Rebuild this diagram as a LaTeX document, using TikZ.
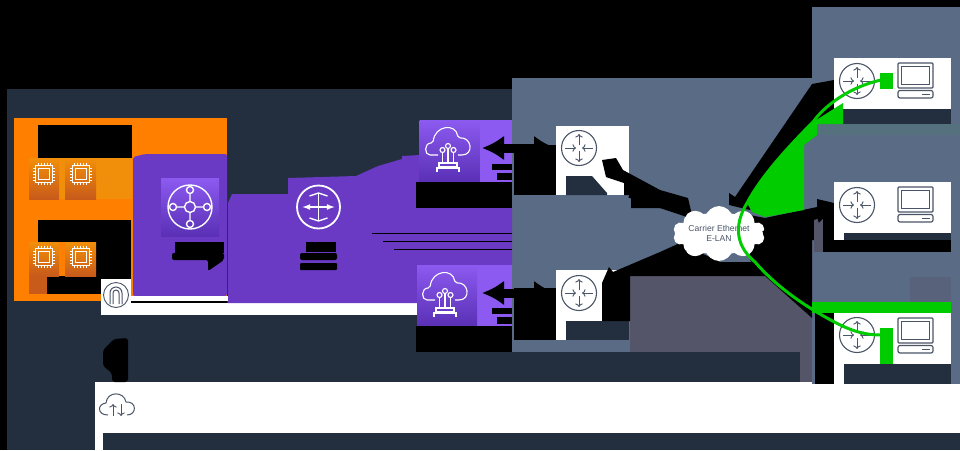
\documentclass[tikz,border=0pt]{standalone}
\usepackage{fontspec}
\setmainfont{Liberation Sans}
\usetikzlibrary{arrows, arrows.meta, shapes, shapes.symbols, positioning}
\definecolor{navy}{HTML}{232F3E}
\definecolor{slate}{HTML}{5A6B86}
\definecolor{dusk}{HTML}{55556A}
\definecolor{awsorange}{HTML}{FF8000}
\definecolor{chipamber}{HTML}{F28F0A}
\definecolor{chiprust}{HTML}{C85A1A}
\definecolor{awspurple}{HTML}{6A3AC5}
\definecolor{liftpurple}{HTML}{8C5AF0}
\definecolor{deeppurple}{HTML}{5A30B5}
\definecolor{linkgreen}{HTML}{00CC00}
\definecolor{iconink}{HTML}{4A5667}
\tikzset{
  tile/.style={minimum width=#1, minimum height=#1, inner sep=0pt, top color=liftpurple, bottom color=deeppurple, draw=none},
  chiptile/.style={minimum width=#1, inner sep=0pt, top color=chipamber, bottom color=chiprust, draw=none},
  whitebox/.style={fill=white, draw=none, inner sep=0pt},
  wire/.style={{Latex[length=22pt,width=25pt]}-{Latex[length=22pt,width=25pt]}, line width=9pt, black},
  trunk/.style={-latex, line width=5pt, black},
  greenlink/.style={linkgreen, line width=3pt},
  chip/.pic={
    \draw[white, line width=1pt] (-8.5,-8.5) rectangle (8.5,8.5) (-5.5,-5.5) rectangle (5.5,5.5);
    \foreach \t in {-6,-3,0,3,6} {
      \draw[white, line width=.6pt] (\t,-11) -- (\t,-8.5) (\t,8.5) -- (\t,11) (-11,\t) -- (-8.5,\t) (8.5,\t) -- (11,\t);
    }
  },
  router/.pic={
    \draw[iconink, line width=1.1pt] (0,0) circle (17.5);
    \draw[iconink, line width=.9pt, ->] (0,-3) -- (0,-14);
    \draw[iconink, line width=.9pt, ->] (0,3) -- (0,14);
    \draw[iconink, line width=.9pt, ->] (-14,0) -- (-3,0);
    \draw[iconink, line width=.9pt, ->] (14,0) -- (3,0);
  },
  computer/.pic={
    \draw[iconink, line width=1.2pt, rounded corners=1pt] (-17.5,-17.5) rectangle (17.5,7.5);
    \draw[iconink, line width=1.1pt] (-14,-14) rectangle (14,4);
    \draw[iconink, line width=1.2pt, rounded corners=2pt] (-17.5,10) rectangle (17.5,17.5);
    \draw[iconink, line width=1.8pt] (6,14) -- (14,14);
  },
  hub/.pic={
    \draw[white, line width=1.4pt] (0,0) circle (22) (0,0) circle (5.5);
    \foreach \a in {0,90,180,270} {
      \draw[white, line width=1.4pt] (\a:5.5) -- (\a:13.5) (\a:17) circle (3.5);
    }
  },
  crossing/.pic={
    \draw[white, line width=1.8pt] (0,0) circle (21.5);
    \draw[white, line width=1.6pt, latex-latex] (-16,0) -- (16,0);
    \draw[white, line width=1.6pt] (0,-13) -- (0,13);
    \draw[white, line width=1.4pt] (-9,-11) -- (0,-14) -- (9,-11) (-9,11) -- (0,14) -- (9,11);
  },
  cloudlink/.pic={
    \draw[white, line width=1.1pt, rounded corners=2pt] (-10,6) -- (-16,6) .. controls (-24,6) and (-24,-6) .. (-15,-6) .. controls (-13,-24) and (8,-26) .. (10,-11) .. controls (24,-12) and (26,6) .. (12,6) -- (10,6);
    \foreach \t/\h in {-5.5/1,0/-3,5.5/1} {
      \draw[white, line width=1.1pt] (\t,\h) circle (2.5);
      \draw[white, line width=1.1pt] (\t,\h+2.5) -- (\t,14);
    }
    \draw[white, line width=1.1pt] (-9,14) rectangle (9,18) (-11,23) -- (-11,19) -- (11,19) -- (11,23);
  }
}
\begin{document}
\begin{tikzpicture}[x=1pt, y=-1pt]
  \useasboundingbox (0,0) rectangle (960,450);
  \fill[black] (0,0) rectangle (960,450);
  % panels behind everything
  \fill[navy] (7,89) rectangle (812,382);
  \fill[navy] (7,382) rectangle (95,450);
  \fill[slate] (512,78) rectangle (812,352);
  \fill[dusk] (630,276) -- (765,276) -- (812,318) -- (812,384) -- (800,384) -- (800,352) -- (630,352) -- cycle;
  \fill[navy] (630,352) rectangle (800,382);
  \fill[white] (95,382) rectangle (960,450);
  \fill[navy] (103,433) rectangle (960,450);
  \fill[slate] (812,7) rectangle (960,384);
  \fill[slate] (805,135) rectangle (812,252);
  \fill[slate!94!linkgreen] (817,124) rectangle (960,135);
  \fill[dusk!40!slate] (910,277) rectangle (951,302);
  % vpc
  \fill[awsorange] (14,118) rectangle (227,301);
  \fill[black] (38,125) rectangle (132,158);
  \fill[chipamber] (59,158) rectangle (132,199);
  \fill[black] (38,220) rectangle (131,242);
  \fill[black] (96,242) rectangle (131,294);
  \fill[black] (47,276) rectangle (131,294);
  \fill[chiprust] (29,276) rectangle (47,294);
  \node[chiptile=30pt, minimum height=41pt] (ec2a) at (44,178.5) {};
  \node[chiptile=31pt, minimum height=41pt] (ec2b) at (80.5,178.5) {};
  \node[chiptile=30pt, minimum height=34pt] (ec2c) at (44,259) {};
  \node[chiptile=31pt, minimum height=34pt] (ec2d) at (80.5,259) {};
  \pic at (44,174) {chip};
  \pic at (80.5,174) {chip};
  \pic at (44,257) {chip};
  \pic at (80.5,257) {chip};
  % purple fields
  \fill[awspurple, rounded corners=2pt] (133,157) -- (145,154) -- (227,154) -- (227,296) -- (133,296) -- cycle;
  \fill[white] (101,296) rectangle (228,301);
  \fill[black] (131,301) rectangle (227,303);
  \fill[white] (101,303) rectangle (417,315);
  \fill[awspurple] (228,203) -- (232,194) -- (288,194) -- (288,178) -- (356,176) -- (378,166) -- (402,159) -- (402,156) -- (420,155) -- (420,208) -- (512,208) -- (512,265) -- (417,265) -- (417,303) -- (228,303) -- cycle;
  \draw[black, line width=1pt] (372,233) -- (512,233);
  \draw[black, line width=1pt] (383,241) -- (512,241);
  \draw[black, line width=1pt] (394,249) -- (512,249);
  \node[tile=58pt] (tgw) at (190,207) {};
  \pic at (190,207) {hub};
  \pic at (318.5,207) {crossing};
  \node[inner sep=0pt] (dxgw) at (318.5,207) {};
  \fill[black] (175,242) rectangle (224,253);
  \fill[black, rounded corners=2pt] (172,253) -- (224,253) -- (224,260) -- (208,271) -- (208,260) -- (172,260) -- cycle;
  \fill[black] (306,242) rectangle (336,252);
  \fill[black, rounded corners=2pt] (300,253) rectangle (337,260);
  \fill[black, rounded corners=1pt] (300,263) rectangle (337,270);
  % attachment tile
  \node[whitebox, minimum width=30pt, minimum height=36pt] (attach) at (116,297) {};
  \draw[iconink, line width=.9pt] (116,295) circle (12.5);
  \draw[iconink, line width=1pt] (110,304) -- (110,293) arc[start angle=180, end angle=360, radius=6] -- (122,304);
  \draw[iconink, line width=1pt] (113,304) -- (113,293) arc[start angle=180, end angle=360, radius=3] -- (119,304);
  \fill[black, rounded corners=3pt] (128,338) -- (114,339) -- (103,350) -- (103,366) -- (112,373) -- (112,382) -- (128,382) -- cycle;
  % direct connect tiles
  \fill[liftpurple] (479,120) rectangle (512,182);
  \fill[liftpurple] (417,265) rectangle (512,326);
  \node[tile=60pt, minimum height=62pt] (dxa) at (449.5,151) {};
  \node[tile=60pt, minimum height=61pt] (dxb) at (447,295.5) {};
  \pic at (448,149) {cloudlink};
  \pic at (445,294) {cloudlink};
  \fill[black] (416,182) rectangle (512,208);
  \fill[black] (416,326) rectangle (512,352);
  \fill[black] (492,164) rectangle (512,170);
  \fill[black] (497,173) rectangle (512,180);
  \fill[black] (492,308) rectangle (512,314);
  \fill[black] (497,317) rectangle (512,324);
  % data center routers
  \coordinate (dxaout) at (482,148);
  \coordinate (dxbout) at (482,293);
  \coordinate (cgwain) at (556,148);
  \coordinate (cgwbin) at (556,293);
  \draw[wire] (dxaout) -- (cgwain);
  \draw[wire] (dxbout) -- (cgwbin);
  \fill[black] (514,145) rectangle (556,195);
  \fill[black] (514,288) rectangle (556,340);
  \node[whitebox, minimum width=73pt, minimum height=69pt] (cgwa) at (592.5,160.5) {};
  \node[whitebox, minimum width=73pt, minimum height=70pt] (cgwb) at (592.5,305) {};
  \pic at (579,148) {router};
  \pic at (579,293) {router};
  \fill[navy] (566,176) -- (592,176) -- (607,193) -- (607,195) -- (566,195) -- cycle;
  \fill[black] (624,183) rectangle (631,195);
  \fill[navy] (566,321) rectangle (629,340);
  % cloud links
  \fill[black] (602,160) -- (616,158) -- (623,170) -- (660,190) -- (688,198) -- (692,215) -- (672,208) -- (631,208) -- (631,195) -- (624,195) -- (624,183) -- (606,177) -- cycle;
  \fill[black] (602,321) -- (602,283) -- (609,267) -- (613,272) -- (660,252) -- (680,243) -- (720,262) -- (765,262) -- (765,276) -- (630,276) -- (630,321) -- cycle;
  \fill[black] (729,205) -- (729,193) -- (735,197) -- (810,87) -- (812,84) -- (834,80) -- (834,110) -- (815,125) -- (750,210) -- cycle;
  \fill[black] (750,215) -- (765,218) -- (817,207) -- (817,199) -- (834,203) -- (834,240) -- (812,240) -- (812,318) -- (765,276) -- (750,260) -- cycle;
  \fill[dusk] (814,218) rectangle (823,252);
  \fill[black] (823,240) rectangle (951,252);
  \fill[black] (815,313) rectangle (834,384);
  \fill[white] (719,233.5) ellipse (40 and 21);
  \node[cloud, cloud puffs=10, aspect=2.4, fill=white, draw=none, inner sep=0pt, minimum width=92pt, minimum height=47pt, align=center, font=\fontsize{8.6}{10}\selectfont, text=iconink] (celan) at (719,233.5) {Carrier Ethernet\\E-LAN};
  % branch sites
  \node[whitebox, minimum width=117pt, minimum height=51pt] (sitea) at (892.5,83.5) {};
  \node[whitebox, minimum width=117pt, minimum height=58pt] (siteb) at (892.5,211) {};
  \node[whitebox, minimum width=117pt, minimum height=71pt] (sitec) at (892.5,348.5) {};
  \path[trunk] (celan.east) edge (siteb.west);
  \path[trunk, -] (cgwa.south east) edge (celan.north west);
  \path[trunk, -] (cgwb.north east) edge (celan.south west);
  \fill[navy] (843,109) rectangle (951,124);
  \fill[navy] (844,233) rectangle (951,240);
  \fill[navy] (844,363.5) rectangle (951,384);
  \pic at (857,81) {router};
  \pic at (857,205) {router};
  \pic at (857,335) {router};
  \pic at (915.5,80.5) {computer};
  \pic at (915.5,204.5) {computer};
  \pic at (915.5,335.5) {computer};
  % green link
  \fill[linkgreen] (747,203) .. controls (762,175) and (790,145) .. (813,122) -- (843,103) -- (843,124) -- (817,124) -- (817,135) -- (804,145) -- (804,210) -- (765,217) -- (752,212) -- cycle;
  \fill[linkgreen] (880,73) rectangle (893,89);
  \fill[linkgreen] (812,302) rectangle (951,313);
  \fill[linkgreen] (880,328) rectangle (893,364);
  \draw[greenlink] (881,80) .. controls (850,87) and (825,105) .. (813,122) .. controls (790,145) and (762,175) .. (747,203) .. controls (732,228) and (738,248) .. (755,262) .. controls (775,285) and (800,303) .. (827,318) .. controls (845,328) and (860,335) .. (881,335);
  % bottom cloud
  \node[inner sep=0pt] (igw) at (117,407) {};
  \draw[iconink, line width=1pt] (108,415) .. controls (97,415) and (97,404) .. (106,403) .. controls (107,391) and (124,391) .. (126,402) .. controls (137,401) and (137,415) .. (127,415);
  \draw[iconink, line width=.9pt, ->] (113,416) -- (113,404);
  \draw[iconink, line width=.9pt, <-] (121,416) -- (121,404);
\end{tikzpicture}
\end{document}
